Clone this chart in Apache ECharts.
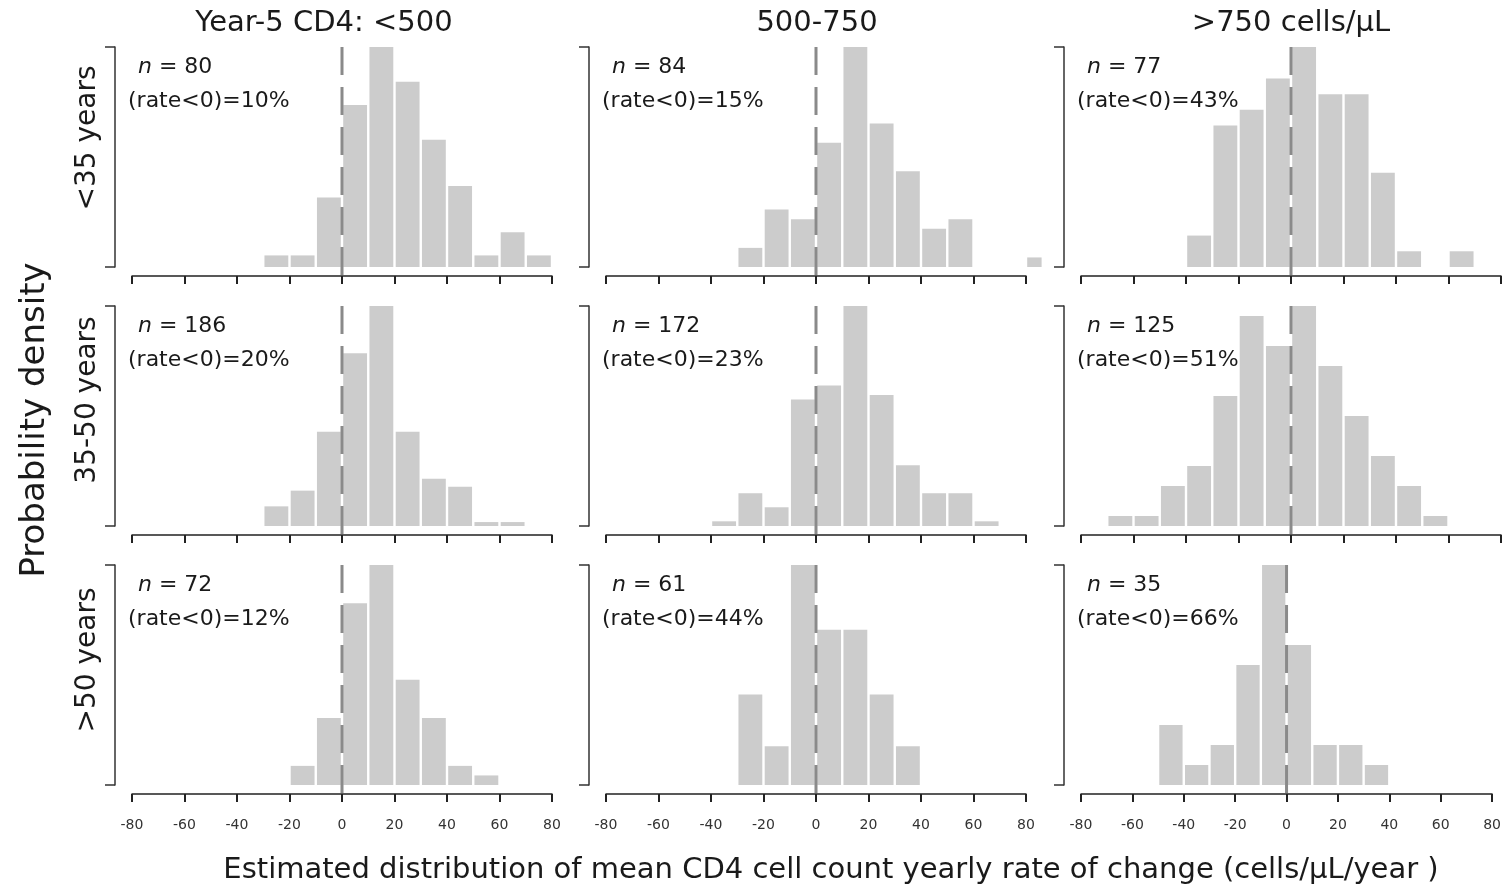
<!DOCTYPE html>
<html>
<head>
<meta charset="utf-8">
<script src="https://cdn.jsdelivr.net/npm/echarts@6/dist/echarts.min.js"></script>
<style>
  html, body { margin: 0; padding: 0; background: #fff; }
  #chart { width: 1504px; height: 891px; }
</style>
</head>
<body>
<div id="chart"></div>
<script>
// histogram bins (left edges, width 10 cells/uL/year)
const binLeft = [-70, -60, -50, -40, -30, -20, -10, 0, 10, 20, 30, 40, 50, 60, 70, 80];
const binWidth = 10;

const cd4Groups = ['Year-5 CD4: <500', '500-750', '>750 cells/μL'];
const ageGroups = ['<35 years', '35-50 years', '>50 years'];

const nValues = [[80, 84, 77], [186, 172, 125], [72, 61, 35]];
const pctNegative = [[10, 15, 43], [20, 23, 51], [12, 44, 66]];

// counts per bin, one array per age group x CD4 group
const countsAge35Cd4Low  = [0, 0, 0, 0, 1, 1, 6, 14, 19, 16, 11, 7, 1, 3, 1, 0];
const countsAge35Cd4Mid  = [0, 0, 0, 0, 2, 6, 5, 13, 23, 15, 10, 4, 5, 0, 0, 1];
const countsAge35Cd4High = [0, 0, 0, 2, 9, 10, 12, 14, 11, 11, 6, 1, 0, 1, 0, 0];
const countsAge50Cd4Low  = [0, 0, 0, 0, 5, 9, 24, 44, 56, 24, 12, 10, 1, 1, 0, 0];
const countsAge50Cd4Mid  = [0, 0, 0, 1, 7, 4, 27, 30, 47, 28, 13, 7, 7, 1, 0, 0];
const countsAge50Cd4High = [1, 1, 4, 6, 13, 21, 18, 22, 16, 11, 7, 4, 1, 0, 0, 0];
const countsAgeOldCd4Low  = [0, 0, 0, 0, 0, 2, 7, 19, 23, 11, 7, 2, 1, 0, 0, 0];
const countsAgeOldCd4Mid  = [0, 0, 0, 0, 7, 3, 17, 12, 12, 7, 3, 0, 0, 0, 0, 0];
const countsAgeOldCd4High = [0, 0, 3, 1, 2, 6, 11, 7, 2, 2, 1, 0, 0, 0, 0, 0];

const panelCounts = [
  [countsAge35Cd4Low, countsAge35Cd4Mid, countsAge35Cd4High],
  [countsAge50Cd4Low, countsAge50Cd4Mid, countsAge50Cd4High],
  [countsAgeOldCd4Low, countsAgeOldCd4Mid, countsAgeOldCd4High]
];

const xMin = -80, xMax = 80, xStep = 20;
const plotEdge = 86.4; // R plot region edge (4% extension)
const refLineX = 0;

// layout
const colLeft = [132, 606, 1081];
const rowTop = [47, 306, 565];
const gridW = 420, gridH = 220;
const xAxisOffset = 9;
const FONT = 'DejaVu Sans';
const barColor = '#cccccc';

var myChart = echarts.init(document.getElementById('chart'));

const grids = [], xAxes = [], yAxes = [], series = [], graphics = [];

function renderBar(params, api) {
  const x0 = api.value(0), x1 = Math.min(api.value(1), plotEdge), y = api.value(2);
  const p0 = api.coord([x0, 0]);
  const p1 = api.coord([x1, y]);
  const gap = 2.4;
  return {
    type: 'rect',
    shape: { x: p0[0] + gap / 2, y: p1[1], width: p1[0] - p0[0] - gap, height: p0[1] - p1[1] },
    style: { fill: barColor }
  };
}

// dashed vertical line at rate = 0, running down to the x axis line
function renderRefLine(params, api) {
  const top = api.coord([api.value(0), api.value(1)]);
  const base = api.coord([api.value(0), 0]);
  return {
    type: 'line',
    shape: { x1: top[0], y1: top[1], x2: base[0], y2: base[1] + xAxisOffset },
    style: { stroke: '#8a8a8a', lineWidth: 3, lineDash: [28, 12] },
    z2: 10
  };
}

for (let r = 0; r < 3; r++) {
  for (let c = 0; c < 3; c++) {
    const idx = r * 3 + c;
    const n = nValues[r][c];
    const counts = panelCounts[r][c];
    const data = [];
    let maxDens = 0;
    counts.forEach((cnt, i) => {
      const dens = cnt / (n * binWidth);
      if (dens > maxDens) maxDens = dens;
      if (cnt > 0) data.push([binLeft[i], binLeft[i] + binWidth, dens]);
    });

    grids.push({ left: colLeft[c], top: rowTop[r], width: gridW, height: gridH });
    xAxes.push({
      type: 'value', gridIndex: idx, min: xMin, max: xMax, interval: xStep,
      offset: xAxisOffset,
      axisLine: { show: true, onZero: false, lineStyle: { color: '#222', width: 1.5 } },
      axisTick: { show: true, length: 8, lineStyle: { color: '#222', width: 2 } },
      axisLabel: {
        show: r === 2, margin: 24, color: '#333', fontFamily: FONT, fontSize: 14,
        showMinLabel: true, showMaxLabel: true
      },
      splitLine: { show: false }
    });
    yAxes.push({
      type: 'value', gridIndex: idx, min: 0, max: maxDens, interval: maxDens,
      offset: 17,
      axisLine: { show: true, onZero: false, lineStyle: { color: '#333', width: 1.5 } },
      axisTick: { show: true, length: 10, lineStyle: { color: '#333', width: 1.5 } },
      axisLabel: { show: false },
      splitLine: { show: false }
    });
    series.push({
      type: 'custom', xAxisIndex: idx, yAxisIndex: idx,
      renderItem: renderBar, clip: false, data: data,
      encode: { x: [0, 1], y: 2 }
    });
    series.push({
      type: 'custom', xAxisIndex: idx, yAxisIndex: idx, z: 5,
      renderItem: renderRefLine, clip: false, silent: true,
      data: [[refLineX, maxDens]],
      encode: { x: 0, y: 1 }
    });

    // annotations
    graphics.push({
      type: 'text', left: colLeft[c] + 43 - 37, top: rowTop[r] + 22 - 13,
      style: {
        text: '{i|n} = ' + n, fontFamily: FONT, fontSize: 22, fill: '#1a1a1a',
        rich: { i: { fontStyle: 'italic', fontFamily: FONT, fontSize: 22, fill: '#1a1a1a' } }
      }
    });
    graphics.push({
      type: 'text', left: colLeft[c] - 4, top: rowTop[r] + 56 - 13,
      style: { text: '(rate<0)=' + pctNegative[r][c] + '%', fontFamily: FONT, fontSize: 22, fill: '#1a1a1a' }
    });
  }
}

// column titles
const titleX = [324, 817, 1291];
cd4Groups.forEach((t, c) => {
  graphics.push({
    type: 'text', x: titleX[c], y: 23,
    style: { text: t, fontFamily: FONT, fontSize: 29, fill: '#1a1a1a', align: 'center', verticalAlign: 'middle' }
  });
});

// row labels
const rowLabelY = [138, 400, 660];
ageGroups.forEach((t, r) => {
  graphics.push({
    type: 'text', x: 88, y: rowLabelY[r], rotation: Math.PI / 2,
    style: { text: t, fontFamily: FONT, fontSize: 28, fill: '#1a1a1a', align: 'center', verticalAlign: 'middle' }
  });
});

graphics.push({
  type: 'text', x: 35, y: 420, rotation: Math.PI / 2,
  style: { text: 'Probability density', fontFamily: FONT, fontSize: 34, fill: '#1a1a1a', align: 'center', verticalAlign: 'middle' }
});
graphics.push({
  type: 'text', x: 831, y: 870,
  style: {
    text: 'Estimated distribution of mean CD4 cell count yearly rate of change (cells/μL/year )',
    fontFamily: FONT, fontSize: 29, fill: '#1a1a1a', align: 'center', verticalAlign: 'middle'
  }
});

myChart.setOption({
  animation: false,
  grid: grids,
  xAxis: xAxes,
  yAxis: yAxes,
  series: series,
  graphic: graphics
});
</script>
</body>
</html>
